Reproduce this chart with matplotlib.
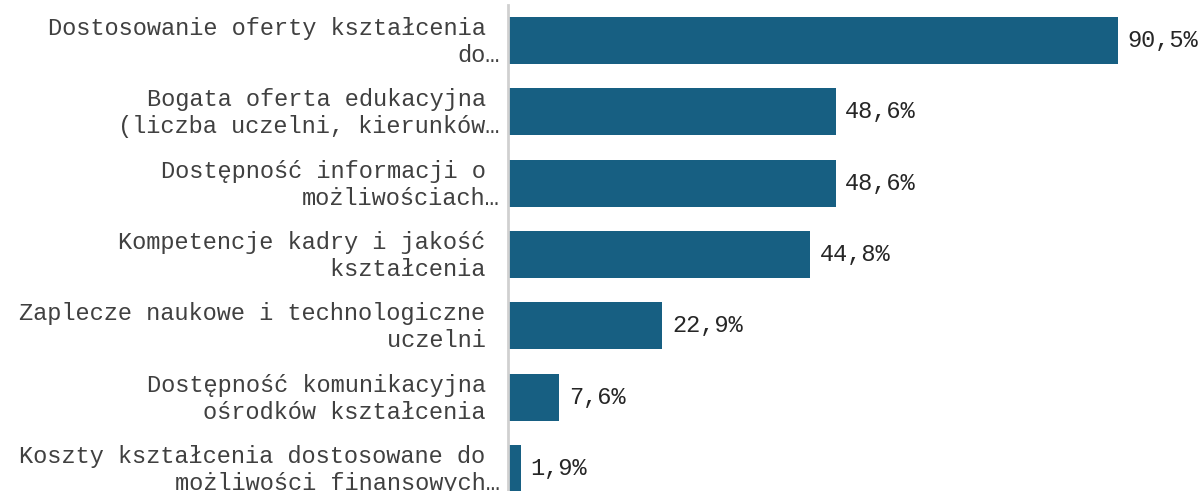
import matplotlib
matplotlib.use("Agg")
import matplotlib.pyplot as plt
import matplotlib.transforms as mtransforms

categories = [
    "Dostosowanie oferty kształcenia \ndo…",
    "Bogata oferta edukacyjna \n(liczba uczelni, kierunków…",
    "Dostępność informacji o \nmożliwościach…",
    "Kompetencje kadry i jakość \nkształcenia ",
    "Zaplecze naukowe i technologiczne \nuczelni ",
    "Dostępność komunikacyjna \nośrodków kształcenia ",
    "Koszty kształcenia dostosowane do \nmożliwości finansowych…",
]
values = [90.5, 48.6, 48.6, 44.8, 22.9, 7.6, 1.9]
value_labels = ["90,5%", "48,6%", "48,6%", "44,8%", "22,9%", "7,6%", "1,9%"]

W, H = 1199, 491
fig = plt.figure(figsize=(W / 100, H / 100), dpi=100)
left = 508 / W
bottom_px = 5 + 7 * 71.3
ax = fig.add_axes([left, 1 - bottom_px / H, 674 / W, (bottom_px - 5) / H])

font = "Liberation Mono"
y = list(range(len(values)))
ax.barh(y, values, height=0.66, color="#175f82", zorder=2)
ax.set_ylim(len(values) - 0.5, -0.5)
ax.set_xlim(0, 100)
ax.set_yticks(y)
ax.set_yticklabels(categories, fontsize=17, family=font, color="#404040",
                   linespacing=1.22)
ax.tick_params(axis="y", length=0, pad=6)
ax.set_xticks([])
for s in ["top", "right", "bottom"]:
    ax.spines[s].set_visible(False)
ax.spines["left"].set_color("#d0d0d0")
ax.spines["left"].set_linewidth(2)

shift = mtransforms.ScaledTranslation(0, 3 / 100, fig.dpi_scale_trans)
for lbl in ax.get_yticklabels():
    lbl.set_transform(lbl.get_transform() + shift)

for yi, v, lab in zip(y, values, value_labels):
    ax.annotate(lab, (v, yi), xytext=(7, 0), textcoords="offset points",
                va="center", ha="left", fontsize=17, family=font,
                color="#262626")

fig.savefig("out.png", dpi=100)
